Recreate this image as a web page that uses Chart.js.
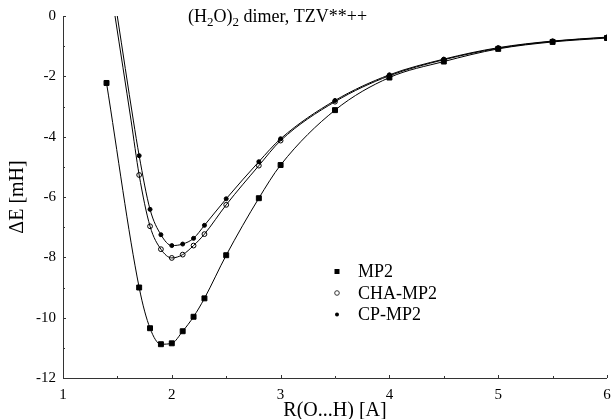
<!DOCTYPE html>
<html>
<head>
<meta charset="utf-8">
<script src="https://cdn.jsdelivr.net/npm/chart.js@4/dist/chart.umd.min.js"></script>
<style>
  html, body { margin:0; padding:0; background:#fff; }
  #wrap { width:612px; height:419px; }
</style>
</head>
<body>
<div id="wrap"><canvas id="c" width="612" height="419"></canvas></div>
<script>
// R(O...H) in A, dE in mH
const rValues = [1.4, 1.7, 1.8, 1.9, 2.0, 2.1, 2.2, 2.3, 2.5, 2.8, 3.0, 3.5, 4.0, 4.5, 5.0, 5.5, 6.0];
const mp2 = [-2.22, -9.0, -10.35, -10.88, -10.85, -10.45, -9.97, -9.36, -7.93, -6.04, -4.94, -3.12, -2.04, -1.51, -1.09, -0.86, -0.73];

const rCorr = [1.7, 1.8, 1.9, 2.0, 2.1, 2.2, 2.3, 2.5, 2.8, 3.0, 3.5, 4.0, 4.5, 5.0, 5.5, 6.0];
const chaMp2 = [-5.27, -6.97, -7.73, -8.02, -7.91, -7.61, -7.23, -6.26, -4.96, -4.13, -2.84, -1.98, -1.45, -1.07, -0.84, -0.71];
const cpMp2 = [-4.63, -6.41, -7.25, -7.61, -7.56, -7.37, -6.94, -6.06, -4.83, -4.07, -2.80, -1.95, -1.43, -1.05, -0.83, -0.70];

// upper part of the fitted curves (no markers there)
const chaCurveX = [1.478, 1.625];
const chaCurveY = [0, -3.45];
const cpCurveX = [1.499, 1.646];
const cpCurveY = [0, -3.45];

const xTicks = [1, 2, 3, 4, 5, 6];
const yTicks = [0, -2, -4, -6, -8, -10, -12];
const legendNames = ["MP2", "CHA-MP2", "CP-MP2"];

function pts(xs, ys) { return xs.map((x, i) => ({ x: x, y: ys[i] })); }

const serif = "'Liberation Serif', 'DejaVu Serif', serif";

const curveBase = { showLine: true, pointRadius: 0, borderColor: "#000", borderWidth: 1, cubicInterpolationMode: "monotone", fill: false };
const markBase = { showLine: false, borderColor: "#000", borderWidth: 1 };

const datasets = [
  Object.assign({ label: "mp2 curve", data: pts(rValues, mp2) }, curveBase),
  Object.assign({ label: "cha curve", data: pts(chaCurveX.concat(rCorr), chaCurveY.concat(chaMp2)) }, curveBase),
  Object.assign({ label: "cp curve", data: pts(cpCurveX.concat(rCorr), cpCurveY.concat(cpMp2)) }, curveBase),
  Object.assign({ label: legendNames[0], data: pts(rValues, mp2), pointStyle: "rect", pointRadius: 3.5, backgroundColor: "#000" }, markBase),
  Object.assign({ label: legendNames[1], data: pts(rCorr, chaMp2), pointStyle: "circle", pointRadius: 2.4, backgroundColor: "rgba(0,0,0,0)" }, markBase),
  Object.assign({ label: legendNames[2], data: pts(rCorr, cpMp2), pointStyle: "circle", pointRadius: 2, backgroundColor: "#000" }, markBase)
];

const decor = {
  id: "decor",
  afterDraw(chart) {
    const ctx = chart.ctx;
    const xs = chart.scales.x, ys = chart.scales.y;
    const ca = chart.chartArea;
    ctx.save();
    // axis lines
    ctx.strokeStyle = "#333";
    ctx.lineWidth = 1;
    ctx.beginPath();
    ctx.moveTo(ca.left + 0.5, ca.top);
    ctx.lineTo(ca.left + 0.5, ca.bottom + 0.5);
    ctx.lineTo(ca.right, ca.bottom + 0.5);
    ctx.stroke();
    // inward ticks
    ctx.beginPath();
    for (let v = 1; v <= 6.001; v += 0.5) {
      const px = Math.round(xs.getPixelForValue(v)) + 0.5;
      const len = Math.abs(v - Math.round(v)) < 0.01 ? 3 : 2;
      ctx.moveTo(px, ca.bottom);
      ctx.lineTo(px, ca.bottom - len);
    }
    for (let v = 0; v >= -12; v -= 1) {
      const py = Math.round(ys.getPixelForValue(v)) + 0.5;
      const len = v % 2 === 0 ? 3 : 2;
      ctx.moveTo(ca.left, py);
      ctx.lineTo(ca.left + len, py);
    }
    ctx.stroke();

    ctx.fillStyle = "#000";
    // title with subscripts
    let tx = 188, ty = 22;
    const parts = [["(H", 0], ["2", 1], ["O)", 0], ["2", 1], [" dimer, TZV**++", 0]];
    ctx.textBaseline = "alphabetic";
    ctx.textAlign = "left";
    parts.forEach(p => {
      ctx.font = (p[1] ? "13px " : "18px ") + serif;
      ctx.fillText(p[0], tx, ty + (p[1] ? 4 : 0));
      tx += ctx.measureText(p[0]).width;
    });

    // axis titles
    ctx.font = "20px " + serif;
    ctx.textAlign = "center";
    ctx.textBaseline = "middle";
    ctx.fillText("R(O...H) [A]", 335, 411);
    ctx.save();
    ctx.translate(18, 197);
    ctx.rotate(-Math.PI / 2);
    ctx.fillText("\u0394E [mH]", 0, 0);
    ctx.restore();

    // legend
    ctx.font = "18px " + serif;
    ctx.textAlign = "left";
    const rows = [271.5, 293, 314.5];
    legendNames.forEach((name, i) => {
      const y = rows[i], x = 337;
      ctx.beginPath();
      if (i === 0) {
        ctx.fillRect(x - 2.5, y - 2.5, 5, 5);
      } else if (i === 1) {
        ctx.arc(x, y, 2.3, 0, Math.PI * 2);
        ctx.stroke();
      } else {
        ctx.arc(x, y, 2, 0, Math.PI * 2);
        ctx.fill();
      }
      ctx.fillText(name, 358, y + 1);
    });
    ctx.restore();
  }
};

new Chart(document.getElementById("c"), {
  type: "scatter",
  data: { datasets: datasets },
  options: {
    responsive: false,
    animation: false,
    clip: true,
    layout: { padding: { top: 16, right: 5, left: 0, bottom: 0 } },
    plugins: { legend: { display: false }, tooltip: { enabled: false } },
    scales: {
      x: {
        type: "linear", min: 1, max: 6,
        afterFit: s => { s.height = 41; s.paddingLeft = 0; s.paddingRight = 0; },
        afterBuildTicks: s => { s.ticks = xTicks.map(v => ({ value: v })); },
        grid: { display: false, drawTicks: false },
        border: { display: false },
        ticks: { color: "#000", padding: 8, font: { family: serif, size: 15 } }
      },
      y: {
        type: "linear", min: -12, max: 0,
        afterFit: s => { s.width = 63; s.paddingTop = 0; s.paddingBottom = 0; },
        afterBuildTicks: s => { s.ticks = yTicks.map(v => ({ value: v })); },
        grid: { display: false, drawTicks: false },
        border: { display: false },
        ticks: { color: "#000", padding: 7, font: { family: serif, size: 15 } }
      }
    }
  },
  plugins: [decor]
});
</script>
</body>
</html>
